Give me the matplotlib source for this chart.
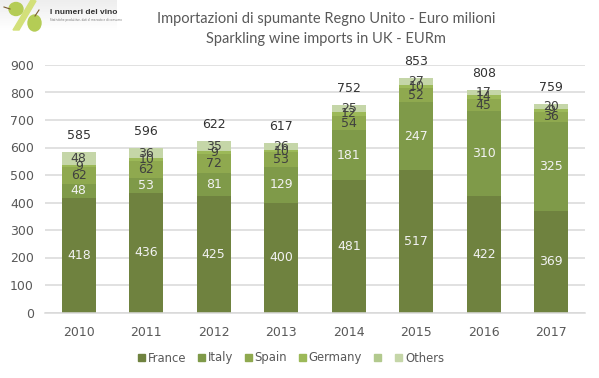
#!/usr/bin/env python3

import numpy as np
import matplotlib
matplotlib.use("Agg")
import matplotlib.pyplot as plt
import matplotlib.patches as mpatches

plt.rcParams["font.family"] = ["DejaVu Sans"]

years = ["2010", "2011", "2012", "2013", "2014", "2015", "2016", "2017"]
france = [418, 436, 425, 400, 481, 517, 422, 369]
italy = [48, 53, 81, 129, 181, 247, 310, 325]
spain = [62, 62, 72, 53, 54, 52, 45, 36]
germany = [9, 10, 9, 10, 12, 10, 14, 9]
others = [48, 36, 35, 26, 25, 27, 17, 20]
totals = [585, 596, 622, 617, 752, 853, 808, 759]

series = [france, italy, spain, germany, others]
colors = ["#6f823f", "#7f9a49", "#8fa94f", "#9cb958", "#c5d6a8"]
label_colors = ["#f2f2f2", "#f2f2f2", "#404040", "#404040", "#404040"]
legend_names = ["France", "Italy", "Spain", "Germany", "", "Others"]
legend_colors = ["#6f823f", "#7f9a49", "#8fa94f", "#9cb958", "#b2c98d", "#c5d6a8"]

W, H = 599, 378
fig = plt.figure(figsize=(W / 100, H / 100), dpi=100)
ax = fig.add_axes([45 / W, 1 - 312.5 / H, 540 / W, 247.5 / H])

x = np.arange(len(years))
bottom = np.zeros(len(years))
for vals, col, lcol in zip(series, colors, label_colors):
    bars = ax.bar(x, vals, width=0.5, bottom=bottom, color=col, zorder=2)
    ax.bar_label(bars, label_type="center", color=lcol, fontsize=9, zorder=3)
    bottom += np.array(vals)

# totals float above the stack, like the hidden line in the original
for i, t in enumerate(totals):
    ax.text(x[i], bottom[i] + 60, str(t), ha="center", va="center", fontsize=9, color="#333333")

ax.set_xlim(-0.5, 7.5)
ax.set_ylim(0, 900)
ax.set_yticks(range(0, 901, 100))
ax.set_xticks(x, years)
ax.grid(axis="y", color="#d9d9d9", lw=1.1, zorder=0)
ax.set_axisbelow(True)
for s in ["top", "right", "left"]:
    ax.spines[s].set_visible(False)
ax.spines["bottom"].set_color("#d9d9d9")
ax.spines["bottom"].set_linewidth(1.1)
ax.tick_params(length=0, labelsize=9, labelcolor="#595959")
ax.tick_params(axis="x", pad=10)
ax.tick_params(axis="y", pad=8)

handles = [mpatches.Patch(color=c, label=n) for c, n in zip(legend_colors, legend_names)]
fig.legend(handles=handles, ncol=6, loc="center", bbox_to_anchor=(291 / W, 1 - 358 / H),
           frameon=False, fontsize=8.4, labelcolor="#595959", handlelength=0.6, handleheight=0.6,
           handletextpad=0.25, columnspacing=1.0, borderpad=0, borderaxespad=0)

fig.text(326 / W, 1 - 18.5 / H, "Importazioni di spumante Regno Unito - Euro milioni",
         ha="center", va="center", fontsize=10.5, family="Lato", color="#595959")
fig.text(326 / W, 1 - 38.5 / H, "Sparkling wine imports in UK - EURm",
         ha="center", va="center", fontsize=10.5, family="Lato", color="#595959")

# logo in the corner
logo = fig.add_axes([0, 1 - 32 / H, 117 / W, 32 / H])
logo.set_xlim(0, 117)
logo.set_ylim(32, 0)
logo.axis("off")
grad = np.linspace(0.93, 1.0, 32).reshape(-1, 1)
logo.imshow(grad, cmap="gray", vmin=0, vmax=1, extent=(0, 117, 32, 0), aspect="auto")
logo.add_patch(mpatches.Polygon([[13, 30], [19, 30], [36, 1], [31, 0]], color="#d3e07a"))
logo.add_patch(mpatches.Ellipse((16, 9), 14, 13, color="#b4cc55"))
logo.add_patch(mpatches.Ellipse((34.5, 23), 13, 16, color="#b4cc55"))
logo.plot([4, 10], [7, 9], color="#7a5a30", lw=0.8)
logo.plot([35, 39], [16, 10], color="#7a5a30", lw=0.8)
logo.text(50.5, 12, "I numeri del vino", fontsize=6, fontweight="bold", color="#333333", va="center", family="Liberation Sans")
logo.text(50.5, 20.5, "Statistiche produttive, dati di mercato e di consumo", fontsize=2, color="#777777", va="center")

fig.savefig("out.png", dpi=100)
